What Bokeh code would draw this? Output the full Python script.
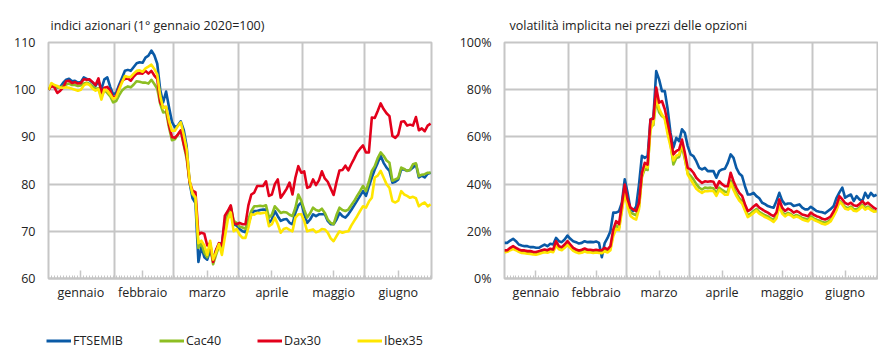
from bokeh.plotting import figure
from bokeh.layouts import column, row
from bokeh.models import (FixedTicker, PrintfTickFormatter, Legend, LegendItem,
                          Range1d)
from bokeh.embed import file_html
from bokeh.resources import INLINE

# ---------------- data ----------------
months = ["gennaio", "febbraio", "marzo", "aprile", "maggio", "giugno"]
month_label_pos = [11, 32, 54, 76, 97, 119]
month_bounds = [22.5, 42.5, 64.5, 86.5, 107.5]
series_names = ["FTSEMIB", "Cac40", "Dax30", "Ibex35"]

idx_ftsemib = [100, 101.0, 100.9, 100.5, 100.6, 101.5, 102.1, 102.3, 101.8, 101.9,
               101.5, 101.6, 102.6, 102.3, 102.0, 101.5, 100.8, 101.8, 100.1, 102.2,
               102.6, 100.6, 99.0, 99.3, 101.0, 102.5, 104.0, 104.2, 104.0, 104.8,
               105.6, 105.8, 105.7, 106.8, 107.2, 108.3, 107.3, 105.5, 100.0, 97.3,
               99.6, 96.3, 93.2, 92.0, 92.4, 93.3, 91.5, 88.0, 80.3, 77.0,
               76.0, 63.5, 66.8, 64.5, 64.0, 66.0, 64.0, 66.0, 67.3, 67.5,
               72.0, 74.0, 75.0, 71.5, 71.2, 70.5, 70.0, 69.8, 71.5, 73.6,
               74.3, 74.3, 74.5, 74.6, 74.6, 71.8, 72.5, 74.3, 73.2, 72.2,
               72.5, 72.6, 71.8, 71.5, 73.9, 75.5, 76.1, 73.6, 71.8, 72.5,
               73.6, 73.2, 73.6, 73.6, 73.6, 72.2, 71.5, 71.5, 72.5, 73.9,
               73.2, 72.9, 73.6, 74.5, 75.5, 76.5, 77.5, 78.5, 77.5, 79.5,
               81.4, 83.1, 84.5, 86.0, 84.5, 83.5, 82.8, 80.3, 80.5, 81.0,
               83.1, 83.1, 82.8, 83.0, 83.5, 84.2, 81.4, 81.8, 81.4, 82.2, 82.4]
idx_cac40 = [100, 101.0, 100.8, 100.5, 100.5, 100.8, 101.1, 101.3, 101.0, 101.0,
             100.8, 100.9, 101.3, 101.5, 101.2, 100.7, 100.2, 100.3, 98.5, 100.0,
             99.3, 98.6, 97.3, 97.6, 98.8, 99.8, 100.4, 100.7, 100.5, 101.1,
             101.8, 101.7, 101.5, 101.5, 101.3, 102.1, 101.2, 100.2, 97.0, 95.2,
             95.3, 92.0, 89.3, 89.5, 90.5, 91.3, 88.3, 85.4, 80.4, 77.8,
             77.0, 66.5, 67.5, 65.5, 64.5, 67.0, 63.0, 65.0, 66.8, 66.2,
             71.9, 73.8, 75.3, 72.2, 71.8, 71.0, 70.8, 70.5, 72.5, 74.3,
             75.3, 75.3, 75.4, 75.3, 75.5, 72.9, 73.5, 75.3, 74.6, 73.9,
             74.1, 74.0, 73.5, 73.2, 75.0, 77.8, 76.5, 74.6, 72.9, 73.8,
             75.0, 74.5, 74.3, 74.8, 73.9, 72.5, 71.8, 71.5, 73.5, 75.0,
             74.5, 74.3, 74.6, 75.5, 76.4, 77.5, 78.5, 79.6, 78.5, 80.5,
             82.8, 83.8, 85.5, 86.7, 86.0, 85.0, 84.5, 80.7, 81.0, 81.3,
             83.5, 83.2, 82.8, 83.0, 84.2, 84.4, 81.7, 82.0, 82.1, 82.4, 82.4]
idx_dax30 = [100, 100.8, 100.5, 99.3, 99.8, 100.5, 101.8, 101.9, 101.4, 101.6,
             101.3, 101.4, 102.2, 102.1, 102.2, 101.6, 101.0, 102.4, 99.4, 100.4,
             100.6, 99.8, 98.2, 98.7, 100.4, 101.8, 102.3, 102.4, 101.9, 102.8,
             103.4, 103.5, 103.4, 104.0, 103.4, 104.0, 103.0, 102.3, 97.3, 96.4,
             96.3, 92.5, 90.0, 89.8, 90.5, 91.4, 88.5, 86.0, 80.5, 78.6,
             78.3, 69.3, 69.7, 69.5, 67.0, 67.5, 63.5, 66.0, 67.5, 67.0,
             73.3, 74.3, 75.5, 71.8, 71.5, 71.8, 71.5, 71.5, 75.5, 77.8,
             78.2, 79.6, 79.6, 79.6, 80.6, 77.5, 77.8, 80.0, 81.0, 77.1,
             78.0, 79.0, 80.3, 77.8, 81.4, 83.8, 82.4, 82.7, 79.2, 79.5,
             81.0, 79.8, 80.8, 82.7, 81.2, 80.5, 79.1, 77.7, 80.5, 82.9,
             83.0, 83.9, 82.9, 84.2, 85.4, 86.7, 87.5, 88.2, 86.7, 86.7,
             94.1, 94.0, 95.5, 97.1, 95.9, 95.0, 94.4, 90.2, 89.8, 90.5,
             93.2, 93.3, 92.4, 92.6, 92.4, 94.2, 91.4, 91.8, 91.2, 92.4, 92.8]
idx_ibex35 = [100, 101.4, 101.0, 100.8, 100.4, 100.4, 100.5, 100.4, 100.2, 100.0,
              99.8, 100.0, 100.9, 101.3, 101.0, 100.2, 99.8, 100.1, 97.9, 100.0,
              99.8, 99.0, 98.0, 98.4, 100.0, 101.5, 102.9, 102.7, 102.7, 103.4,
              104.0, 104.1, 103.8, 104.5, 104.9, 105.3, 104.4, 103.2, 98.7, 96.1,
              96.4, 93.4, 91.3, 91.3, 92.3, 93.1, 90.5, 87.4, 80.8, 78.0,
              77.2, 67.5, 68.0, 67.0, 65.0, 68.0, 64.0, 65.5, 67.3, 65.0,
              68.8, 72.5, 74.0, 70.0, 70.5, 69.3, 68.6, 68.6, 70.8, 73.6,
              73.5, 73.9, 73.8, 73.9, 74.0, 71.1, 71.5, 72.9, 71.5, 69.7,
              70.5, 70.7, 70.3, 70.0, 72.9, 73.6, 73.6, 72.2, 70.0, 70.2,
              70.4, 69.8, 70.0, 70.5, 70.4, 69.7, 68.5, 67.9, 69.0, 70.0,
              69.7, 69.9, 70.0, 71.2, 72.2, 73.2, 74.3, 75.3, 75.0, 76.3,
              77.1, 81.4, 81.8, 82.8, 81.4, 80.0, 79.2, 76.4, 76.1, 76.5,
              78.5, 77.8, 77.5, 77.1, 77.3, 77.0, 75.3, 75.8, 76.1, 75.3, 75.7]

vol_ftsemib = [15.1, 15.1, 16.1, 16.8, 15.8, 14.4, 14.0, 13.7, 13.7, 13.3,
               13.3, 13.0, 13.0, 13.7, 14.4, 13.7, 14.7, 14.4, 17.2, 15.8,
               15.4, 16.5, 18.2, 16.8, 15.8, 15.4, 14.8, 15.1, 15.8, 15.4,
               15.5, 15.4, 15.7, 15.1, 9.0, 15.0, 17.2, 20.0, 27.9, 27.9,
               28.5, 32.1, 42.0, 36.3, 29.3, 28.6, 30.5, 40.0, 52.0, 51.1,
               51.9, 67.4, 68.1, 87.9, 84.4, 79.4, 79.4, 71.7, 61.7, 55.4,
               59.6, 58.2, 63.2, 61.7, 56.1, 52.6, 51.9, 49.7, 46.9, 46.2,
               46.9, 45.5, 45.5, 45.5, 42.7, 45.5, 46.2, 46.5, 49.0, 52.6,
               51.1, 46.9, 44.5, 43.4, 39.1, 35.6, 35.6, 36.3, 34.9, 34.0,
               32.1, 31.5, 30.7, 30.3, 30.0, 32.8, 36.3, 33.0, 31.4, 31.8,
               31.8, 30.7, 31.0, 31.4, 30.0, 29.3, 29.3, 30.4, 29.5, 28.6,
               28.3, 28.1, 27.6, 28.6, 29.5, 30.7, 34.2, 36.5, 38.5, 34.2,
               35.0, 35.6, 32.8, 34.9, 33.5, 32.8, 36.3, 34.2, 36.3, 34.9, 35.5]
vol_cac40 = [11.5, 11.8, 12.5, 13.0, 12.5, 11.8, 11.3, 11.2, 11.0, 10.9,
             10.7, 10.6, 10.9, 11.3, 11.6, 11.4, 12.0, 11.7, 14.8, 13.0,
             12.6, 13.6, 14.9, 13.6, 12.3, 11.7, 11.3, 11.5, 12.0, 11.6,
             11.6, 11.4, 11.6, 11.4, 11.3, 12.2, 11.6, 12.8, 19.5, 22.5,
             21.5, 29.5, 37.5, 31.5, 28.0, 27.3, 26.8, 30.5, 43.0, 46.5,
             46.0, 64.5, 65.0, 75.5, 70.5, 68.8, 68.0, 62.5, 57.0, 48.3,
             51.0, 51.5, 56.0, 50.5, 44.5, 43.5, 42.0, 40.0, 38.5, 37.7,
             38.5, 38.3, 38.5, 38.2, 36.0, 38.5, 37.5, 36.8, 36.5, 41.5,
             38.5, 36.0, 34.0, 32.8, 29.5, 26.8, 27.5, 28.5, 29.5, 28.2,
             27.5, 26.8, 26.3, 25.5, 24.8, 26.3, 31.5, 28.2, 26.9, 27.8,
             27.3, 26.3, 26.9, 26.4, 25.6, 25.3, 24.9, 26.3, 25.5, 24.9,
             24.5, 23.9, 23.6, 24.1, 25.0, 27.0, 29.5, 33.0, 31.8, 30.3,
             29.8, 30.5, 29.4, 29.2, 30.0, 31.2, 29.8, 30.5, 29.5, 28.6, 28.5]
vol_dax30 = [11.9, 12.0, 13.0, 13.7, 13.0, 12.3, 11.9, 11.9, 11.6, 11.6,
             11.3, 11.2, 11.6, 12.0, 12.3, 12.0, 12.6, 12.3, 15.8, 13.7,
             13.3, 14.4, 15.8, 14.4, 13.0, 12.3, 11.9, 12.2, 12.7, 12.2,
             12.2, 12.0, 12.2, 12.0, 12.0, 13.0, 12.3, 13.7, 20.8, 24.3,
             23.0, 31.4, 39.8, 33.5, 30.0, 29.3, 28.6, 32.1, 44.8, 49.0,
             48.3, 67.4, 67.7, 80.9, 74.5, 75.2, 71.7, 66.0, 60.3, 52.6,
             54.0, 54.7, 58.9, 53.3, 46.9, 46.2, 44.8, 42.7, 41.5, 40.5,
             41.2, 41.0, 41.2, 41.0, 38.4, 41.2, 40.0, 39.1, 39.1, 44.8,
             41.2, 38.4, 36.3, 35.0, 31.5, 28.6, 29.3, 30.5, 31.4, 30.0,
             29.3, 28.5, 27.9, 27.1, 26.4, 28.0, 33.5, 30.0, 28.6, 29.6,
             29.0, 27.9, 28.6, 28.0, 27.1, 26.8, 26.4, 27.9, 27.0, 26.4,
             26.0, 25.3, 25.0, 25.5, 26.4, 28.5, 31.0, 34.9, 33.5, 32.0,
             31.4, 32.1, 31.0, 30.7, 31.5, 32.8, 31.4, 32.1, 31.0, 30.0, 29.3]
vol_ibex35 = [11.0, 11.3, 12.0, 12.5, 12.0, 11.3, 10.8, 10.7, 10.5, 10.4,
              10.2, 10.1, 10.4, 10.8, 11.1, 10.9, 11.4, 11.1, 14.0, 12.4,
              12.0, 13.0, 14.2, 13.0, 11.7, 11.1, 10.7, 10.9, 11.4, 11.0,
              11.0, 10.8, 11.0, 10.8, 10.7, 11.5, 11.0, 12.0, 18.0, 21.0,
              20.5, 28.5, 36.5, 30.5, 26.5, 25.5, 25.0, 29.5, 43.5, 48.0,
              47.0, 63.0, 66.0, 77.0, 72.0, 69.5, 67.5, 61.0, 56.0, 50.0,
              52.0, 52.5, 57.5, 51.5, 44.0, 42.0, 40.0, 38.0, 37.0, 36.3,
              37.0, 37.0, 37.2, 37.0, 35.0, 37.5, 36.5, 35.5, 35.5, 40.5,
              37.5, 35.0, 33.0, 31.8, 28.8, 26.0, 26.8, 27.8, 28.8, 27.5,
              26.8, 26.0, 25.5, 24.8, 24.0, 25.5, 30.5, 27.5, 26.3, 27.2,
              26.8, 25.8, 26.3, 25.8, 25.0, 24.6, 24.2, 25.6, 24.9, 24.3,
              23.8, 23.2, 22.9, 23.4, 24.3, 26.5, 29.0, 32.5, 31.3, 29.6,
              29.2, 29.9, 28.7, 28.5, 29.4, 30.6, 29.2, 29.9, 29.0, 28.3, 28.6]

idx_ticks = [60, 70, 80, 90, 100, 110]
vol_ticks = [0, 20, 40, 60, 80, 100]

# ---------------- style ----------------
FONT = "Open Sans"
TXT = "#222222"
GRID = "#C6C6C6"
COLORS = {"FTSEMIB": "#0A5AA6", "Cac40": "#8DBE22", "Dax30": "#E3001B", "Ibex35": "#FFE600"}
LW = 2.6


def make_fig(width, height, border_left, border_right, yr, yticks, title, title_offset, pct=False):
    p = figure(width=width, height=height, x_range=Range1d(0, 130.3), y_range=Range1d(*yr),
               toolbar_location=None, output_backend="svg",
               min_border_left=border_left, min_border_right=border_right,
               min_border_top=42, min_border_bottom=35)
    p.title.text = title
    p.title.text_font = FONT
    p.title.text_font_size = "12.5px"
    p.title.text_font_style = "normal"
    p.title.text_color = TXT
    p.title.offset = title_offset
    p.title.standoff = 17
    p.outline_line_color = GRID
    p.outline_line_width = 2
    p.background_fill_color = "white"
    p.border_fill_color = "white"

    xa = p.xaxis[0]
    xa.ticker = FixedTicker(ticks=month_label_pos, minor_ticks=list(range(131)))
    xa.major_label_overrides = {t: m for t, m in zip(month_label_pos, months)}
    xa.axis_line_color = GRID
    xa.axis_line_width = 2
    xa.major_tick_line_color = GRID
    xa.major_tick_line_width = 1.5
    xa.major_tick_in = 8
    xa.major_tick_out = 0
    xa.minor_tick_line_color = GRID
    xa.minor_tick_line_width = 1
    xa.minor_tick_in = 3
    xa.minor_tick_out = 0
    xa.major_label_standoff = 5
    xa.major_label_text_font = FONT
    xa.major_label_text_font_size = "12.5px"
    xa.major_label_text_color = TXT

    ya = p.yaxis[0]
    ya.ticker = FixedTicker(ticks=yticks)
    ya.axis_line_color = None
    ya.major_tick_line_color = None
    ya.minor_tick_line_color = None
    ya.major_tick_out = 0
    ya.major_label_standoff = 13
    ya.major_label_text_font = FONT
    ya.major_label_text_font_size = "12.5px"
    ya.major_label_text_color = TXT
    if pct:
        ya.formatter = PrintfTickFormatter(format="%d%%")

    p.xgrid.ticker = FixedTicker(ticks=month_bounds)
    p.xgrid.grid_line_color = GRID
    p.xgrid.grid_line_width = 2
    p.ygrid.ticker = FixedTicker(ticks=yticks)
    p.ygrid.grid_line_color = GRID
    p.ygrid.grid_line_width = 2
    return p


H = 313
p1 = make_fig(448, H, 48, 17, (60, 110), idx_ticks,
              "indici azionari (1° gennaio 2020=100)", 2)
for name, ys in [("FTSEMIB", idx_ftsemib), ("Cac40", idx_cac40),
                 ("Dax30", idx_dax30), ("Ibex35", idx_ibex35)]:
    p1.line(list(range(len(ys))), ys, line_color=COLORS[name], line_width=LW,
            line_join="round")

p2 = make_fig(430, H, 56, 1, (0, 100), vol_ticks,
              "volatilità implicita nei prezzi delle opzioni", 5, pct=True)
for name, ys in [("FTSEMIB", vol_ftsemib), ("Cac40", vol_cac40),
                 ("Ibex35", vol_ibex35), ("Dax30", vol_dax30)]:
    p2.line(list(range(len(ys))), ys, line_color=COLORS[name], line_width=LW,
            line_join="round")

# legend strip (its renderers sit outside the visible range; only the legend shows)
leg = figure(width=448, height=36, x_range=Range1d(0, 1), y_range=Range1d(0, 1),
             toolbar_location=None, output_backend="svg", x_axis_type=None,
             y_axis_type=None, min_border=0)
leg.outline_line_color = None
leg.xgrid.visible = False
leg.ygrid.visible = False
items = []
for name in series_names:
    r = leg.line(x=[5, 6], y=[5, 6], line_color=COLORS[name], line_width=3)
    items.append(LegendItem(label=name, renderers=[r]))
legend = Legend(items=items, orientation="horizontal", location=(46, 0),
                glyph_width=25, glyph_height=13, label_height=13,
                label_standoff=2, spacing=36, padding=0, margin=0,
                border_line_color=None, background_fill_alpha=0,
                label_text_font=FONT, label_text_font_size="12.5px",
                label_text_color=TXT)
leg.add_layout(legend, "center")

layout = column(row(p1, p2), leg)
open("out.html", "w").write(file_html(layout, INLINE))
